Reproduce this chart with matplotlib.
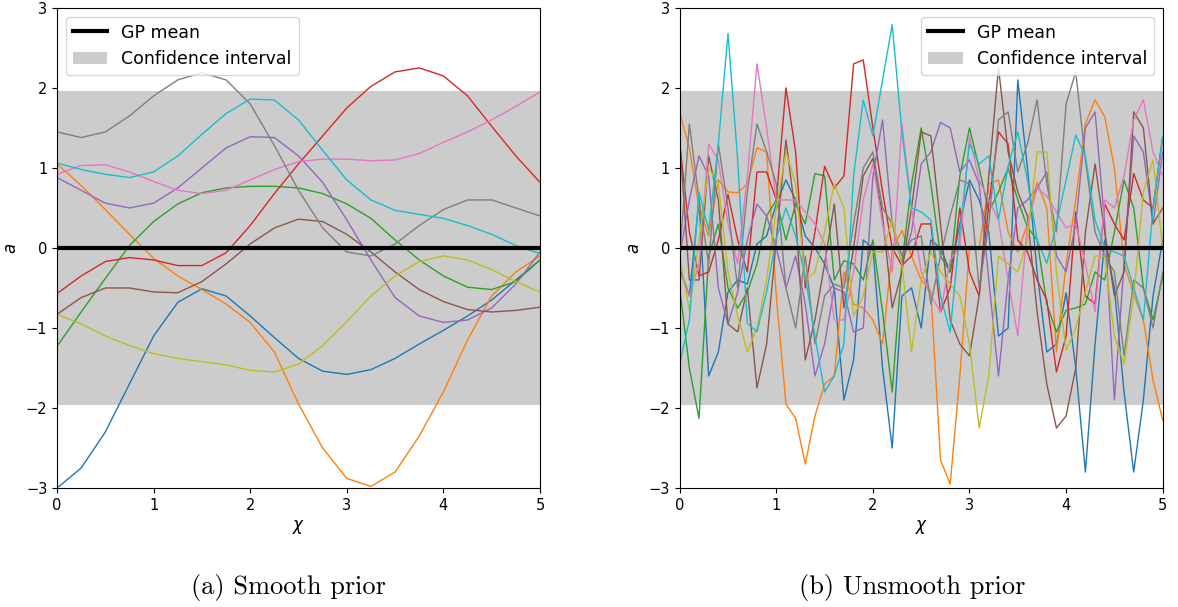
import numpy as np
import matplotlib.pyplot as plt

# smooth prior samples, read at x = 0, 0.25, ..., 5
x_smooth = np.arange(0, 5.01, 0.25)
smooth = {
    'tab:blue':   [-3.0, -2.75, -2.3, -1.7, -1.1, -0.68, -0.51, -0.6, -0.85, -1.12, -1.38, -1.54, -1.58, -1.52, -1.38, -1.2, -1.03, -0.85, -0.65, -0.4, -0.15],
    'tab:orange': [1.05, 0.78, 0.48, 0.17, -0.13, -0.35, -0.52, -0.7, -0.93, -1.3, -1.95, -2.5, -2.88, -2.98, -2.8, -2.35, -1.8, -1.15, -0.6, -0.3, -0.1],
    'tab:green':  [-1.23, -0.8, -0.38, 0.03, 0.33, 0.55, 0.69, 0.75, 0.77, 0.77, 0.75, 0.68, 0.55, 0.37, 0.1, -0.15, -0.35, -0.49, -0.52, -0.42, -0.15],
    'tab:red':    [-0.57, -0.35, -0.17, -0.12, -0.15, -0.22, -0.22, -0.06, 0.28, 0.68, 1.05, 1.4, 1.75, 2.02, 2.2, 2.25, 2.15, 1.9, 1.52, 1.15, 0.82],
    'tab:purple': [0.88, 0.72, 0.56, 0.5, 0.56, 0.75, 1.0, 1.25, 1.39, 1.38, 1.15, 0.82, 0.35, -0.15, -0.62, -0.85, -0.93, -0.9, -0.75, -0.45, -0.05],
    'tab:brown':  [-0.83, -0.62, -0.5, -0.5, -0.55, -0.56, -0.42, -0.2, 0.05, 0.25, 0.36, 0.33, 0.17, -0.05, -0.3, -0.52, -0.67, -0.77, -0.8, -0.78, -0.74],
    'tab:pink':   [0.92, 1.03, 1.04, 0.95, 0.83, 0.72, 0.68, 0.72, 0.85, 0.98, 1.08, 1.11, 1.11, 1.09, 1.1, 1.18, 1.32, 1.45, 1.6, 1.77, 1.95],
    'tab:gray':   [1.45, 1.38, 1.45, 1.65, 1.9, 2.1, 2.19, 2.1, 1.8, 1.28, 0.72, 0.25, -0.05, -0.1, 0.05, 0.28, 0.48, 0.6, 0.6, 0.5, 0.4],
    'tab:olive':  [-0.83, -0.95, -1.1, -1.22, -1.32, -1.38, -1.42, -1.46, -1.53, -1.55, -1.45, -1.22, -0.92, -0.6, -0.35, -0.17, -0.1, -0.15, -0.27, -0.42, -0.55],
    'tab:cyan':   [1.06, 0.98, 0.92, 0.88, 0.95, 1.15, 1.42, 1.68, 1.86, 1.85, 1.6, 1.22, 0.85, 0.6, 0.47, 0.42, 0.37, 0.28, 0.17, 0.03, -0.07],
}

# unsmooth prior samples, read at x = 0, 0.1, ..., 5
x_rough = np.arange(0, 5.01, 0.1)
rough = {
    'tab:blue':   [-0.25, -0.6, 0.6, -1.6, -1.3, -0.55, -0.4, -0.45, 0.05, 0.15, 0.55, 0.85, 0.6, 0.15, 0.0, -0.2, -0.5, -1.9, -1.4, 0.1,
                   0.0, -1.5, -2.5, -0.6, -0.5, -1.0, 0.1, 0.0, -0.3, 0.3, 0.85, 0.6, 0.2, -1.1, -1.0, 2.1, 1.0, -0.3, -1.3, -1.2,
                   -0.56, -1.5, -2.8, -1.2, 0.1, -0.5, -1.8, -2.8, -1.9, -0.6, 0.1],
    'tab:orange': [1.69, 1.25, 0.5, 0.15, 0.85, 0.7, 0.69, 0.8, 1.25, 1.2, -0.6, -1.95, -2.13, -2.7, -2.1, -1.7, -1.6, -0.3, -0.7, -0.75,
                   -0.9, -1.2, -0.03, 0.22, -0.1, -0.4, -0.55, -2.65, -2.95, -1.6, 0.0, 0.0, 0.8, 0.85, 0.2, -0.05, 0.3, 0.82, 0.5, -1.3,
                   -0.2, 0.6, 1.55, 1.85, 1.64, 1.0, -0.2, -0.58, -0.9, -1.65, -2.15],
    'tab:green':  [-0.5, -1.5, -2.13, -0.1, 0.3, -0.5, -0.75, -0.55, -0.2, 0.4, 0.6, 0.1, 0.55, 0.3, 0.93, 0.9, -0.4, -0.16, -0.2, -0.4,
                   0.1, -0.8, -1.8, -0.2, 0.8, 1.5, 0.8, -0.1, -0.3, 0.9, 1.5, 1.0, 0.45, 0.7, 1.0, 0.6, 0.26, 0.1, -0.7, -1.05,
                   -0.78, -0.75, -0.7, -0.3, -0.4, 0.2, 0.85, 0.5, -0.5, -0.9, -0.36],
    'tab:red':    [1.31, 0.2, -0.35, -0.3, 0.1, 0.67, 0.1, -0.3, 0.95, 0.95, 0.6, 2.0, 1.2, -0.5, 0.2, 1.02, 0.75, 0.9, 2.3, 2.35,
                   1.5, 0.7, 0.0, -0.22, -0.1, 0.3, 0.3, -0.8, -0.5, 0.5, -0.3, -0.6, 0.55, 1.45, 1.3, 0.1, -0.05, -0.4, -0.65, -1.55,
                   -1.1, 0.45, -0.6, -0.7, 0.55, 0.3, 0.1, 0.93, 0.6, 0.5, 1.39],
    'tab:purple': [-0.1, 0.6, 1.15, 0.9, -0.5, -0.95, -0.55, 0.1, 0.55, 0.4, 0.0, -0.5, -0.1, -0.7, -1.6, -1.2, -0.5, -0.55, -1.05, -1.0,
                   0.9, 1.6, 0.3, -0.2, 0.2, 1.05, 1.2, 1.57, 1.5, 0.95, 1.1, 0.8, -0.4, -1.6, -0.4, 0.5, 0.6, 0.75, 0.95, -0.1,
                   -0.3, 0.3, 1.5, 1.7, 0.3, -1.9, -0.2, 1.4, 1.2, 0.3, 1.2],
    'tab:brown':  [1.35, -0.4, -0.4, 1.15, 0.6, -0.95, -1.05, -0.5, -1.75, -1.2, 0.1, 1.35, 0.4, -1.4, -0.9, -0.2, 0.55, -0.75, 0.0, 0.9,
                   1.12, 0.4, -0.75, -0.3, 0.5, 1.45, 1.4, 0.3, -0.9, -1.2, -1.35, -0.6, 0.9, 2.25, 1.2, 0.7, 0.4, -0.8, -1.7, -2.25,
                   -2.1, -1.5, 0.2, 1.05, 0.2, -0.6, -0.3, 1.7, 1.5, 0.3, 0.5],
    'tab:pink':   [-0.3, -0.6, -0.2, 1.3, 1.1, 0.3, -0.2, 0.9, 2.3, 1.5, 0.6, 0.6, 0.6, 0.45, 0.3, 0.05, -0.9, -0.9, -0.3, 0.6,
                   1.05, 0.3, -0.3, 1.55, 0.5, -0.3, -0.6, -0.8, -0.15, 0.0, 1.4, 0.85, 0.6, 0.35, -0.4, -1.1, 0.3, 0.75, 0.65, 0.45,
                   0.25, 0.3, -0.2, -0.8, 0.6, 0.5, 0.9, 1.6, 1.85, 1.2, 0.9],
    'tab:gray':   [-0.1, 1.55, 0.6, -0.2, 1.3, 0.5, -0.5, 0.7, 1.55, 1.2, 0.8, -0.5, -1.0, -0.1, -1.2, -0.6, -0.45, -0.5, 0.3, 1.0,
                   1.2, 0.5, 0.3, -0.1, 0.1, 0.15, -0.7, -0.1, 0.4, 0.85, 0.8, -0.5, 0.3, 1.6, 1.7, 0.95, 1.3, 1.85, 0.8, 0.2,
                   1.8, 2.2, 1.1, 0.2, -0.1, -0.3, -1.35, -0.4, -0.5, -1.0, -0.3],
    'tab:olive':  [-0.1, -0.78, 0.1, 1.0, 0.8, -0.3, -0.85, -1.3, -1.0, -0.4, 0.5, 1.2, 0.8, -0.4, -0.3, 0.2, 0.8, 0.5, -0.85, -0.6,
                   -0.05, -0.05, 0.35, -0.2, -1.3, -0.4, -0.05, -0.3, -0.45, -0.6, -1.2, -2.25, -1.6, -0.1, -0.2, -0.3, 0.1, 1.2, 1.2, -0.3,
                   -1.28, -1.0, -0.55, -0.1, -0.1, -1.1, -1.45, -0.6, 0.7, 1.1, 0.0],
    'tab:cyan':   [-1.45, -0.9, 0.7, 0.22, 1.3, 2.68, 1.1, -0.94, -1.05, -0.55, 0.12, 0.5, 0.15, -0.35, -1.1, -1.8, -1.6, -1.2, 0.9, 1.85,
                   1.4, 2.1, 2.79, 1.45, 0.5, 0.45, 0.35, -0.6, -1.05, 0.2, 1.3, 1.05, 1.15, 0.35, 1.02, 1.45, 0.85, 0.1, -0.19, 0.3,
                   0.85, 1.41, 1.15, 0.35, 0.0, -0.05, -0.1, -0.5, -0.9, 0.5, 1.39],
}

ci = 1.96
captions = ['(a) Smooth prior', '(b) Unsmooth prior']

fig = plt.figure(figsize=(11.78, 6.07), dpi=100)
ax1 = fig.add_axes([0.0484, 0.196, 0.41, 0.791])
ax2 = fig.add_axes([0.577, 0.196, 0.41, 0.791])

panels = [(ax1, x_smooth, smooth, 'upper left'), (ax2, x_rough, rough, 'upper right')]
for ax, xs, samples, loc in panels:
    ax.fill_between([0, 5], -ci, ci, color='0.8', lw=0, label='Confidence interval')
    for c, ys in samples.items():
        ax.plot(xs, ys, color=c, lw=1)
    ax.plot([0, 5], [0, 0], color='k', lw=3, label='GP mean')
    ax.set_xlim(0, 5)
    ax.set_ylim(-3, 3)
    ax.set_xlabel(r'$\chi$', fontsize=12)
    ax.set_ylabel(r'$a$', fontsize=12)
    ax.tick_params(labelsize=10.5)
    h, l = ax.get_legend_handles_labels()
    ax.legend(h[::-1], l[::-1], loc=loc, fontsize=12.5)

fig.text(0.2445, 0.022, captions[0], ha='center', va='baseline', fontsize=19, family='cmr10')
fig.text(0.774, 0.022, captions[1], ha='center', va='baseline', fontsize=19, family='cmr10')

fig.savefig('out.png', dpi=100)
